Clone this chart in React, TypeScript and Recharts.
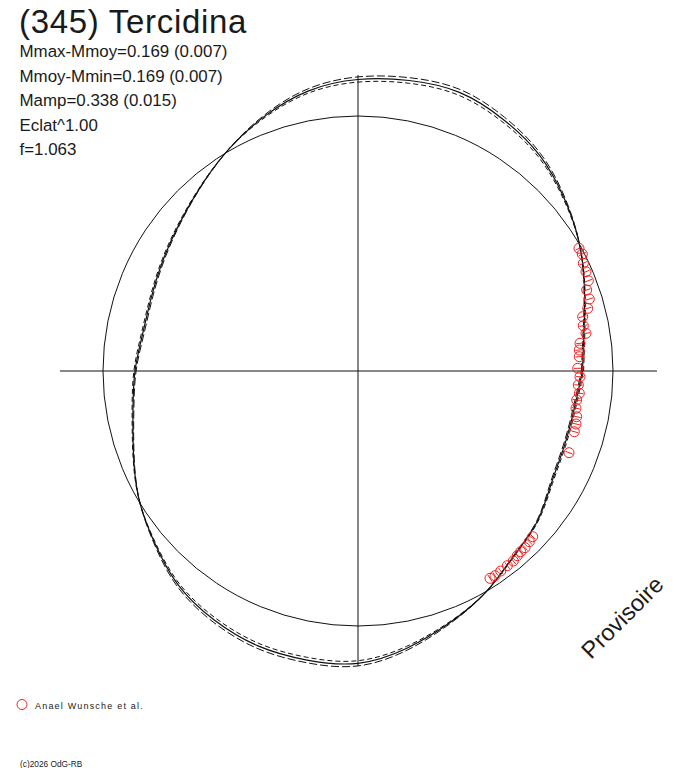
import React from 'react';
import { ComposedChart, XAxis, YAxis, Line, Scatter, ReferenceLine, ReferenceDot } from 'recharts';

// Polar light-curve fit: angle (deg, counter-clockwise from +x) and radius (plot units)
const ANGLES = [0, 10, 20, 30, 40, 50, 60, 70, 80, 90, 100, 110, 120, 130, 140, 150, 160, 170,
  180, 190, 200, 210, 220, 230, 240, 250, 260, 270, 280, 290, 300, 310, 320, 330, 340, 350];
const RADIUS_FIT = [224.5, 229.5, 241, 255.5, 269, 282, 290.5, 296.5, 295, 291.5, 284.5, 271.5, 257, 243, 232, 224.5, 219.5, 218.5,
  223, 228.5, 239, 253.3, 266, 279.5, 287.5, 292.5, 293.5, 292.3, 281.5, 268, 255.5, 242, 234, 223.5, 219.5, 219.5];
const RADIUS_OUTER = [223.4, 228.6, 240.5, 255.5, 270, 283.9, 293, 299.4, 297.8, 294.1, 286.6, 272.7, 257.1, 242.6, 231.2, 223.4, 218.3, 217.2,
  221.9, 227.6, 238.4, 253.2, 266.8, 281.2, 289.8, 295.1, 296.2, 294.9, 283.4, 268.9, 255.5, 241.5, 233.3, 222.4, 218.3, 218.3];
const RADIUS_INNER = [225.6, 230.4, 241.5, 255.5, 268, 280.1, 288, 293.6, 292.2, 288.9, 282.4, 270.3, 256.9, 243.4, 232.8, 225.6, 220.7, 219.8,
  224.1, 229.4, 239.6, 253.4, 265.2, 277.8, 285.2, 289.9, 290.8, 289.7, 279.6, 267.1, 255.5, 242.5, 234.7, 224.6, 220.7, 220.7];
const MEAN_RADIUS = 255;

// Observations (Anael Wunsche et al.) in plot units
const POINT_X = [221, 224.3, 225.3, 228, 230.3, 228.7, 231.3, 229.7, 224.7, 225.3, 228, 222, 221.3, 221.3, 219.7, 222, 220.3, 221.3,
  218.7, 218, 218.7, 218, 216.3, 211, 174.7, 171.3, 167, 162.7, 159.3, 155.3, 149.3, 142.7, 137, 132];
const POINT_Y = [122.7, 117, 107.7, 99.3, 90.3, 81, 72, 62.7, 54.3, 45.3, 37.7, 27.7, 21, 14.3, 2.7, -5.7, -14, -22.3,
  -29, -37.3, -45.7, -53, -60.7, -81.7, -165.7, -170.7, -176.7, -180.7, -184.7, -190, -194.7, -200, -204.7, -207.3];

const TITLE = '(345) Tercidina';
const INFO_LINES = ['Mmax-Mmoy=0.169 (0.007)', 'Mmoy-Mmin=0.169 (0.007)', 'Mamp=0.338 (0.015)', 'Eclat^1.00', 'f=1.063'];
const LEGEND_LABEL = 'Anael Wunsche et al.';
const COPYRIGHT = '(c)2026 OdG-RB';
const WATERMARK = 'Provisoire';

const W = 688;
const H = 768;
const MARGIN = { top: 71, right: 30, bottom: 97, left: 58 };
const DOMAIN: [number, number] = [-300, 300];
const PX_PER_UNIT = (W - MARGIN.left - MARGIN.right) / (DOMAIN[1] - DOMAIN[0]);
const RED = '#f02020';
const INK = '#111';
const FONT = 'Liberation Sans, Arial, sans-serif';

const toXY = (angles: number[], radii: number[]) => {
  const pts = angles.map((a, i) => ({
    x: radii[i] * Math.cos((a * Math.PI) / 180),
    y: radii[i] * Math.sin((a * Math.PI) / 180),
  }));
  pts.push(pts[0]);
  return pts;
};

const fitData = toXY(ANGLES, RADIUS_FIT);
const outerData = toXY(ANGLES, RADIUS_OUTER);
const innerData = toXY(ANGLES, RADIUS_INNER);
const pointData = POINT_X.map((x, i) => ({ x, y: POINT_Y[i] }));

const PointShape = (props: any) => {
  const { cx, cy, payload } = props;
  if (cx == null || cy == null) return null;
  const ang = Math.atan2(payload.y, payload.x);
  const ux = Math.cos(ang);
  const uy = -Math.sin(ang);
  return (
    <g>
      <circle cx={cx} cy={cy} r={5} fill="none" stroke={RED} strokeWidth={1} />
      <line x1={cx - ux * 4} y1={cy - uy * 4} x2={cx + ux * 4} y2={cy + uy * 4} stroke={RED} strokeWidth={1} />
    </g>
  );
};

export default function App() {
  return (
    <div style={{ position: 'absolute', left: 0, top: 0, width: W, height: H, background: '#fff' }}>
      <ComposedChart width={W} height={H} margin={MARGIN}>
        <XAxis type="number" dataKey="x" domain={DOMAIN} hide allowDataOverflow />
        <YAxis type="number" dataKey="y" domain={DOMAIN} hide allowDataOverflow />
        <ReferenceLine segment={[{ x: -298, y: 0 }, { x: 299, y: 0 }]} stroke={INK} strokeWidth={1} />
        <ReferenceLine segment={[{ x: 0, y: -295 }, { x: 0, y: 296 }]} stroke={INK} strokeWidth={1} />
        <ReferenceDot x={0} y={0} r={MEAN_RADIUS * PX_PER_UNIT} fill="none" stroke={INK} strokeWidth={1} />
        <Line data={outerData} dataKey="y" type="natural" stroke={INK} strokeWidth={1} strokeDasharray="8 3" dot={false} activeDot={false} isAnimationActive={false} />
        <Line data={innerData} dataKey="y" type="natural" stroke={INK} strokeWidth={1} strokeDasharray="5 3" dot={false} activeDot={false} isAnimationActive={false} />
        <Line data={fitData} dataKey="y" type="natural" stroke={INK} strokeWidth={1.2} dot={false} activeDot={false} isAnimationActive={false} />
        <Scatter data={pointData} dataKey="y" shape={PointShape} isAnimationActive={false} />
      </ComposedChart>
      <svg width={W} height={H} style={{ position: 'absolute', left: 0, top: 0, pointerEvents: 'none' }}>
        <text x={19} y={33} fontFamily={FONT} fontSize={33} letterSpacing={0.7} fill="#1a1a1a">{TITLE}</text>
        {INFO_LINES.map((t, i) => (
          <text key={t} x={19.5} y={57 + i * 24.5} fontFamily={FONT} fontSize={16.9} fill="#1a1a1a">{t}</text>
        ))}
        <circle cx={22} cy={704.5} r={5} fill="none" stroke={RED} strokeWidth={1} />
        <text x={35} y={708.5} fontFamily={FONT} fontSize={9} letterSpacing={1.2} fill="#1a1a1a">{LEGEND_LABEL}</text>
        <text x={20} y={766.5} fontFamily={FONT} fontSize={8.3} fill="#1a1a1a">{COPYRIGHT}</text>
        <text x={628} y={623} textAnchor="middle" transform="rotate(-45 628 623)" fontFamily={FONT} fontSize={23.5} fill="#1a1a1a">{WATERMARK}</text>
      </svg>
    </div>
  );
}
